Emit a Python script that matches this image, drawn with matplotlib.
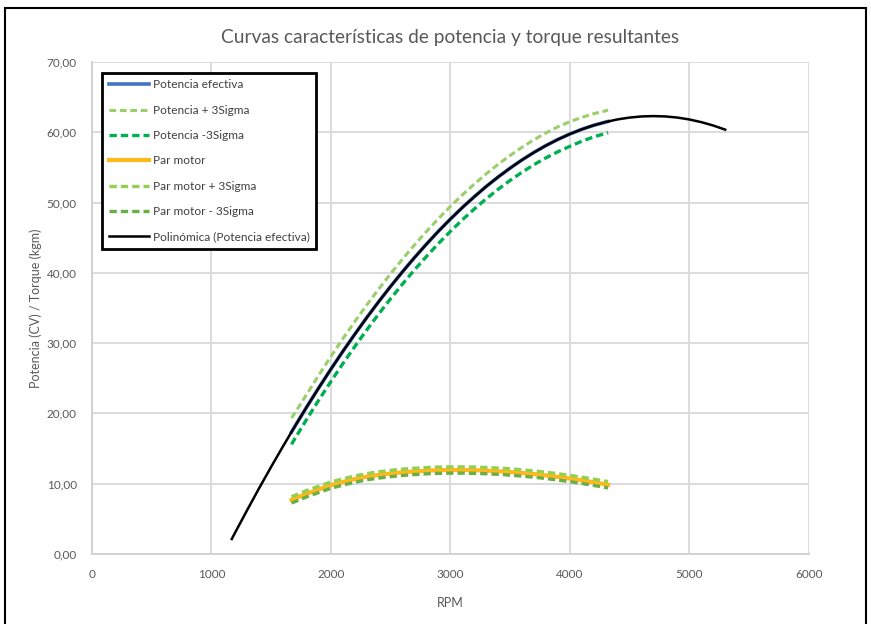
import matplotlib
matplotlib.use("Agg")
import matplotlib.pyplot as plt
from matplotlib.patches import Rectangle

plt.rcParams['font.family'] = ['Lato', 'DejaVu Sans']

# Potencia efectiva (polinomica), CV
rpm_pol = [1170, 1200, 1300, 1400, 1500, 1600, 1700, 1800, 1900, 2000, 2100, 2200,
           2300, 2400, 2500, 2600, 2700, 2800, 2900, 3000, 3100, 3200, 3300, 3400,
           3500, 3600, 3700, 3800, 3900, 4000, 4100, 4200, 4300, 4400, 4500, 4600,
           4700, 4800, 4900, 5000, 5100, 5200, 5300]
pot_pol = [2.13, 3.10, 6.28, 9.39, 12.41, 15.35, 18.21, 20.99, 23.69, 26.30, 28.83, 31.27,
           33.63, 35.90, 38.08, 40.17, 42.18, 44.09, 45.92, 47.65, 49.29, 50.83, 52.29, 53.64,
           54.90, 56.07, 57.14, 58.11, 58.98, 59.75, 60.42, 60.99, 61.46, 61.83, 62.09, 62.25,
           62.30, 62.25, 62.09, 61.82, 61.44, 60.96, 60.37]

# measured range
rpm = [1670, 1700, 1800, 1900, 2000, 2100, 2200, 2300, 2400, 2500, 2600, 2700, 2800,
       2900, 3000, 3100, 3200, 3300, 3400, 3500, 3600, 3700, 3800, 3900, 4000, 4100,
       4200, 4320]
pot = [17.35, 18.21, 20.99, 23.69, 26.30, 28.83, 31.27, 33.63, 35.90, 38.08, 40.17,
       42.18, 44.09, 45.92, 47.65, 49.29, 50.83, 52.29, 53.64, 54.90, 56.07, 57.14,
       58.11, 58.98, 59.75, 60.42, 60.99, 61.54]
pot_mas = [19.35, 20.10, 22.79, 25.49, 28.10, 30.63, 33.07, 35.43, 37.70, 39.88, 41.97,
           43.98, 45.89, 47.72, 49.45, 51.09, 52.63, 54.09, 55.44, 56.70, 57.87, 58.94,
           59.91, 60.78, 61.50, 62.12, 62.64, 63.14]
pot_menos = [15.60, 16.46, 19.24, 21.94, 24.55, 27.08, 29.52, 31.88, 34.15, 36.33, 38.42,
             40.43, 42.34, 44.17, 45.90, 47.54, 49.08, 50.54, 51.89, 53.15, 54.32, 55.39,
             56.36, 57.23, 58.00, 58.72, 59.34, 59.94]
par = [7.70, 7.90, 8.60, 9.20, 9.80, 10.25, 10.65, 11.00, 11.25, 11.45, 11.62, 11.75,
       11.85, 11.92, 11.95, 11.95, 11.92, 11.86, 11.78, 11.67, 11.53, 11.37, 11.18, 10.97,
       10.74, 10.48, 10.20, 9.85]
par_mas = [8.15, 8.35, 9.05, 9.65, 10.25, 10.70, 11.10, 11.45, 11.70, 11.90, 12.07, 12.20,
           12.30, 12.37, 12.40, 12.40, 12.37, 12.31, 12.23, 12.12, 11.98, 11.82, 11.63, 11.42,
           11.19, 10.93, 10.65, 10.30]
par_menos = [7.25, 7.45, 8.15, 8.75, 9.35, 9.80, 10.20, 10.55, 10.80, 11.00, 11.17, 11.30,
             11.40, 11.47, 11.50, 11.50, 11.47, 11.41, 11.33, 11.22, 11.08, 10.92, 10.73, 10.52,
             10.29, 10.03, 9.75, 9.40]

yticks = [0, 10, 20, 30, 40, 50, 60, 70]
xticks = [0, 1000, 2000, 3000, 4000, 5000, 6000]

fig = plt.figure(figsize=(8.71, 6.24), dpi=100)
ax = fig.add_axes([0.1056, 0.1122, 0.823, 0.7885])

dash = (0, (2.2, 1.2))
ax.plot(rpm, pot, color='#4472c4', lw=2.6, label='Potencia efectiva', zorder=3)
ax.plot(rpm, pot_mas, color='#9bcf6a', lw=2.2, ls=dash, label='Potencia + 3Sigma', zorder=3)
ax.plot(rpm, pot_menos, color='#00b050', lw=2.4, ls=dash, label='Potencia -3Sigma', zorder=3)
ax.plot(rpm, par, color='#ffb81c', lw=3.0, label='Par motor', zorder=3)
ax.plot(rpm, par_mas, color='#92d050', lw=2.4, ls=dash, label='Par motor + 3Sigma', zorder=3)
ax.plot(rpm, par_menos, color='#6aaf45', lw=2.4, ls=dash, label='Par motor - 3Sigma', zorder=3)
ax.plot(rpm_pol, pot_pol, color='black', lw=1.8, label='Polinómica (Potencia efectiva)', zorder=4)

ax.set_xlim(0, 6000)
ax.set_ylim(0, 70)
ax.set_xticks(xticks)
ax.set_yticks(yticks)
ax.set_yticklabels([f'{v:.2f}'.replace('.', ',') for v in yticks])
ax.grid(True, color='#d9d9d9', lw=1.3)
ax.set_axisbelow(True)
for s in ['top', 'right']:
    ax.spines[s].set_visible(False)
for s in ['left', 'bottom']:
    ax.spines[s].set_color('#d0d0d0')
    ax.spines[s].set_linewidth(1.3)
ax.tick_params(length=0, colors='#595959', labelsize=8.5, pad=11)

ax.set_title('Curvas características de potencia y torque resultantes',
             color='#595959', fontsize=13.8, pad=14)
ax.set_xlabel('RPM', color='#595959', fontsize=9, labelpad=12)
ax.set_ylabel('Potencia (CV) / Torque (kgm)', color='#595959', fontsize=9, labelpad=3)

leg = ax.legend(loc='upper left', bbox_to_anchor=(0.006, 0.99), fontsize=8.6,
                handlelength=3.4, labelspacing=1.2, handletextpad=0.3,
                borderpad=0.55, fancybox=False, framealpha=1)
leg.get_frame().set_edgecolor('black')
leg.get_frame().set_linewidth(2)
for t in leg.get_texts():
    t.set_color('#404040')

fig.patches.append(Rectangle((5 / 871, -0.05), 861 / 871, 1 - 8 / 624 + 0.05,
                             transform=fig.transFigure, fill=False,
                             edgecolor='black', lw=1.5))

fig.savefig('out.png', dpi=100)
